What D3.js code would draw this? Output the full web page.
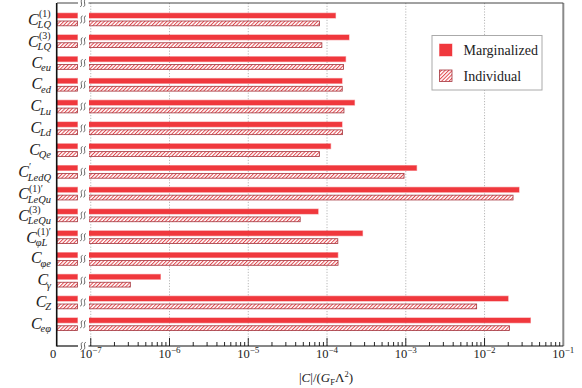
<!DOCTYPE html>
<html><head><meta charset="utf-8">
<script src="https://cdn.jsdelivr.net/npm/d3@7"></script>
<style>
html,body{margin:0;padding:0;background:#fff;}
svg{display:block;}
</style></head>
<body><svg id="c" width="582" height="388"></svg>
<script>
// ---- data ----
const categories = ["LQ1","LQ3","eu","ed","Lu","Ld","Qe","LedQ","LeQu1","LeQu3","phiL1","phie","gamma","Z","ephi"];
const labelSubs  = ["LQ","LQ","eu","ed","Lu","Ld","Qe","LedQ","LeQu","LeQu","φL","φe","γ","Z","eφ"];
const labelSups  = ["(1)","(3)","","","","","","′","(1)′","(3)","(1)′","","","",""];
const marginalized = [1.28e-4,1.90e-4,1.72e-4,1.55e-4,2.23e-4,1.55e-4,1.11e-4,1.37e-3,2.74e-2,7.7e-5,2.82e-4,1.37e-4,7.66e-7,1.99e-2,3.82e-2];
const individual   = [8.0e-5,8.6e-5,1.62e-4,1.56e-4,1.64e-4,1.57e-4,8.0e-5,9.5e-4,2.30e-2,4.56e-5,1.37e-4,1.38e-4,3.18e-7,7.94e-3,2.07e-2];
const tickExponents = [-7,-6,-5,-4,-3,-2,-1];
const seriesNames = ["Marginalized","Individual"];

// ---- layout ----
const yTop = 3, yBot = 346;
const leftX0 = 57, leftX1 = 78, rightX0 = 89, rightX1 = 563.3, breakX = 83;
const RED = "#f0383d", REDEDGE = "rgba(240,56,61,0.45)", DARKRED = "#a3343c", HATCH = "#e2474d";
const INK = "#222", FONT = "Liberation Serif";

const svg = d3.select("#c");
function T(sel){ return sel.append("text").attr("font-family",FONT).attr("fill",INK); }
const defs = svg.append("defs");
const pat = defs.append("pattern").attr("id","hatch").attr("patternUnits","userSpaceOnUse")
  .attr("width",2.6).attr("height",2.6).attr("patternTransform","rotate(45)");
pat.append("rect").attr("width",2.6).attr("height",2.6).attr("fill","#fff");
pat.append("rect").attr("x",0).attr("width",1.0).attr("height",2.6).attr("fill",HATCH);

const y0 = d3.scaleBand().domain(categories).range([8.6, 8.6 + 21.77*categories.length]);
const y1 = d3.scaleBand().domain(seriesNames).range([4.6, 17.2]).paddingInner(0.385);
const xl = d3.scaleLinear().domain([0, 1e-9]).range([leftX0, leftX1 - 0.6]).clamp(true);
const xr = d3.scaleLog().domain([9.5e-8, 0.1]).range([rightX0, rightX1]);

defs.append("clipPath").attr("id","clipL").append("rect").attr("x",leftX0).attr("y",yTop).attr("width",leftX1-leftX0).attr("height",yBot-yTop);
defs.append("clipPath").attr("id","clipR").append("rect").attr("x",rightX0).attr("y",yTop).attr("width",rightX1-rightX0).attr("height",yBot-yTop);

// grid
const grid = svg.append("g");
tickExponents.slice(0,-1).forEach(e=>{
  grid.append("line").attr("x1",xr(Math.pow(10,e))).attr("x2",xr(Math.pow(10,e)))
    .attr("y1",yTop).attr("y2",yBot).attr("stroke","#9a9a9a").attr("stroke-width",0.7)
    .attr("stroke-dasharray","1.2,1.6");
});

const rows = categories.map((c,i)=>({c, m:marginalized[i], ind:individual[i]}));

function drawBars(g, x0fn, xfn){
  rows.forEach(r=>{
    const yb = y0(r.c);
    g.append("rect").attr("x",x0fn()).attr("y",yb+y1("Marginalized"))
      .attr("width",Math.max(0,xfn(r.m)-x0fn())).attr("height",y1.bandwidth())
      .attr("fill",RED).attr("stroke",REDEDGE).attr("stroke-width",1.2);
    g.append("rect").attr("x",x0fn()).attr("y",yb+y1("Individual"))
      .attr("width",Math.max(0,xfn(r.ind)-x0fn())).attr("height",y1.bandwidth())
      .attr("fill","url(#hatch)").attr("stroke",DARKRED).attr("stroke-width",0.8);
  });
}
drawBars(svg.append("g").attr("clip-path","url(#clipL)"), ()=>xl(0), v=>xl(v));
drawBars(svg.append("g").attr("clip-path","url(#clipR)"), ()=>xr.range()[0], v=>xr(v));

// spines
const sp = svg.append("g");
sp.append("line").attr("x1",leftX0-0.3).attr("x2",leftX0-0.3).attr("y1",yTop).attr("y2",yBot+0.5).attr("stroke","#111").attr("stroke-width",1.6);
sp.append("line").attr("x1",rightX1).attr("x2",rightX1).attr("y1",yTop).attr("y2",yBot).attr("stroke","#8a8a8a").attr("stroke-width",2);
[[leftX0,leftX1],[rightX0-0.5,rightX1]].forEach(([a,b])=>{
  sp.append("line").attr("x1",a).attr("x2",b).attr("y1",yTop).attr("y2",yTop).attr("stroke","#444").attr("stroke-width",1);
  sp.append("line").attr("x1",a).attr("x2",b).attr("y1",yBot).attr("y2",yBot).attr("stroke","#111").attr("stroke-width",1.2);
});

// ticks
const tk = svg.append("g").attr("stroke","#111").attr("stroke-width",0.9);
tickExponents.forEach((e,k)=>{
  const X = xr(Math.pow(10,e));
  if (k < tickExponents.length-1) tk.append("line").attr("x1",X).attr("x2",X).attr("y1",yBot).attr("y2",yBot-8);
  if (k < tickExponents.length-1) for (let m=2;m<=9;m++){
    const Xm = xr(m*Math.pow(10,e));
    tk.append("line").attr("x1",Xm).attr("x2",Xm).attr("y1",yBot).attr("y2",yBot-4);
  }
});
const tl = svg.append("g");
tickExponents.forEach(e=>{
  const t = T(tl).attr("x",xr(Math.pow(10,e))).attr("y",358).attr("text-anchor","middle").attr("font-size",12.5);
  t.append("tspan").text("10");
  t.append("tspan").attr("dy",-5.5).attr("font-size",9).text("−" + (-e));
});
T(tl).attr("x",53).attr("y",358).attr("text-anchor","middle").attr("font-size",12.5).text("0");

// break marks
function squiggle(g, cx, cy){
  [-1.6, 1.6].forEach(o=>{
    const x = cx + o;
    g.append("path").attr("d",`M${x+1.2},${cy-3.6} C${x-2.2},${cy-3} ${x+2.2},${cy+3} ${x-1.2},${cy+3.6}`)
      .attr("fill","none").attr("stroke","#555").attr("stroke-width",0.9);
  });
}
const bk = svg.append("g");
squiggle(bk, breakX, yTop);
squiggle(bk, breakX, yBot);
rows.forEach(r=> squiggle(bk, breakX, y0(r.c) + y0.bandwidth()/2));

// y labels
const lab = svg.append("g");
categories.forEach((c,i)=>{
  const cy = y0(c) + y0.bandwidth()/2;
  const g = lab.append("g");
  const C = T(g).attr("x",0).attr("y",0).attr("font-size",16).attr("font-style","italic").text("C");
  const w = C.node().getComputedTextLength();
  const sub = T(g).attr("x",w - 1.2).attr("y",3.5).attr("font-size",10.5).attr("font-style","italic").text(labelSubs[i]);
  let total = w - 1.2 + sub.node().getComputedTextLength();
  if (labelSups[i]) {
    const sup = T(g).attr("x",w + 0.2).attr("y",-7.5).attr("font-size",10).text(labelSups[i]);
    total = Math.max(total, w + 0.2 + sup.node().getComputedTextLength());
  }
  const dy = labelSups[i] ? 5.5 : 4.5;
  g.attr("transform",`translate(${51 - total},${cy + dy})`);
});

// x axis title
const xt = T(svg).attr("x",326).attr("y",382).attr("text-anchor","middle").attr("font-size",13);
xt.append("tspan").text("|");
xt.append("tspan").attr("font-style","italic").text("C");
xt.append("tspan").text("|/(");
xt.append("tspan").attr("font-style","italic").text("G");
xt.append("tspan").attr("font-size",8.5).attr("dy",2.5).text("F");
xt.append("tspan").attr("dy",-2.5).text("Λ");
xt.append("tspan").attr("font-size",8.5).attr("dy",-5).text("2");
xt.append("tspan").attr("dy",5).text(")");

// legend
const lg = svg.append("g");
lg.append("rect").attr("x",432).attr("y",35.5).attr("width",110).attr("height",54.5).attr("fill","#fff").attr("stroke","#aaa").attr("stroke-width",1);
lg.append("rect").attr("x",439.5).attr("y",44).attr("width",12.5).attr("height",12).attr("fill",RED).attr("stroke",REDEDGE).attr("stroke-width",1);
lg.append("rect").attr("x",439.5).attr("y",70).attr("width",12.5).attr("height",11.5).attr("fill","url(#hatch)").attr("stroke",DARKRED).attr("stroke-width",0.8);
seriesNames.forEach((s,i)=>{
  T(lg).attr("x",463.5).attr("y",i===0?55:80.5).attr("font-size",14).text(s);
});
</script></body></html>
